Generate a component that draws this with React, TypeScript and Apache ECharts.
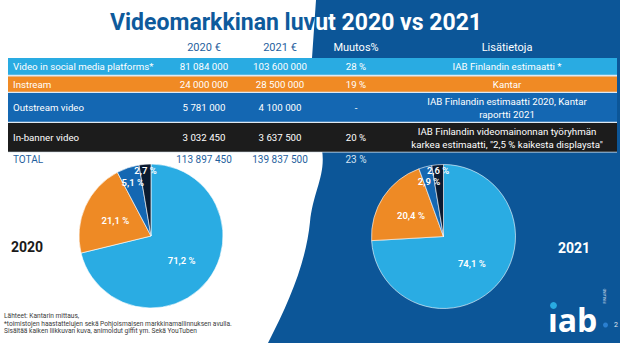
import React, { useEffect, useRef } from "react";
import * as echarts from "echarts";

const title = ["Videomarkkinan luv", "ut 2020 vs 2021"];
const headers = ["2020 €", "2021 €", "Muutos%", "Lisätietoja"];
const categories = ["Video in social media platforms*", "Instream", "Outstream video", "In-banner video"];
const values2020 = [81084000, 24000000, 5781000, 3032450];
const values2021 = [103600000, 28500000, 4100000, 3637500];
const changes = ["28 %", "19 %", "-", "20 %"];
const notes = [
  "IAB Finlandin estimaatti *",
  "Kantar",
  "IAB Finlandin estimaatti 2020, Kantar\nraportti 2021",
  "IAB Finlandin videomainonnan työryhmän\nkarkea estimaatti, \"2,5 % kaikesta displaysta\"",
];
const totalLabel = "TOTAL";
const total2020 = 113897450;
const total2021 = 139837500;
const totalChange = "23 %";
const years = ["2020", "2021"];
const footnotes = [
  "Lähteet: Kantarin mittaus,",
  "*toimistojen haastattelujen sekä Pohjoismaisen markkinamallinnuksen avulla.",
  "Sisältää kaiken liikkuvan kuva, animoidut giffit ym. Sekä YouTuben",
];

// styles
const FONT = "Roboto, 'Open Sans', sans-serif";
const rowColors = ["#29abe2", "#f08a24", "#1467b2", "#1c1c1c"];
const pieColors = ["#2aace3", "#ee8a25", "#1467b2", "#0b1a30"];
const rowTops = [58, 76.5, 93, 123];
const rowHeights = [17.5, 16, 29.5, 29.5];
const colX = [204, 280, 356, 507];
const labelShift = [0, 0, 18, 27];
const BG_BLUE = "#0c5698";
const TEXT_BLUE = "#1f5f9e";

const bgPath =
  "M316 0 L620 0 L620 343 L268 343 C290 300 306 262 310 222 C313 192 326 175 322 150 L312 58 Z";
echarts.graphic.registerShape("bgshape", echarts.graphic.extendPath(bgPath, {}) as any);

const fmt = (n: number) => n.toString().replace(/\B(?=(\d{3})+(?!\d))/g, " ");

function shiftFor(values: number[], i: number) {
  const sum = values.reduce((a, b) => a + b, 0);
  let cum = 0;
  for (let k = 0; k < i; k++) cum += values[k];
  const mid = ((cum + values[i] / 2) / sum) * Math.PI * 2;
  const ex = labelShift[i];
  return { dx: ex * Math.sin(mid), dy: -ex * Math.cos(mid) };
}

function pieSeries(values: number[], center: number[]) {
  return {
    type: "pie",
    center,
    radius: [0, 72],
    startAngle: 90,
    clockwise: true,
    silent: true,
    avoidLabelOverlap: false,
    data: categories.map((c, i) => ({ name: c, value: values[i], itemStyle: { color: pieColors[i] } })),
    itemStyle: { borderColor: "#ffffff", borderWidth: 0.6 },
    label: {
      show: true,
      position: "inside",
      color: "#ffffff",
      fontSize: 9.5,
      fontWeight: 600,
      fontFamily: FONT,
      formatter: (p: any) => p.percent.toFixed(1).replace(".", ",") + " %",
    },
    labelLine: { show: false },
    labelLayout: (p: any) => shiftFor(values, p.dataIndex),
    emphasis: { disabled: true },
  };
}

function buildGraphic() {
  const els: any[] = [];
  els.push({ type: "rect", shape: { x: 0, y: 0, width: 620, height: 343 }, style: { fill: "#ffffff" }, z: -10 });
  els.push({ type: "bgshape", x: 0, y: 0, scaleX: 1, scaleY: 1, style: { fill: BG_BLUE }, z: -9 });
  // title
  els.push({
    type: "text",
    x: 110,
    y: 22,
    style: {
      text: `{a|${title[0]}}{b|${title[1]}}`,
      verticalAlign: "middle",
      rich: {
        a: { fill: "#0e5a9c", fontSize: 23, fontWeight: "bold", fontFamily: FONT },
        b: { fill: "#ffffff", fontSize: 23, fontWeight: "bold", fontFamily: FONT },
      },
    },
  });
  // headers
  headers.forEach((h, i) => {
    els.push({
      type: "text",
      x: colX[i],
      y: 47,
      style: {
        text: h,
        fill: i < 2 ? TEXT_BLUE : "#ffffff",
        fontSize: 11,
        fontFamily: FONT,
        align: "center",
        verticalAlign: "middle",
      },
    });
  });
  // table back (light gaps)
  els.push({ type: "rect", shape: { x: 8, y: 58, width: 609, height: 94.5 }, style: { fill: "#dfe9f2" }, z: -1 });
  categories.forEach((c, i) => {
    const top = rowTops[i];
    const h = rowHeights[i];
    const cy = top + h / 2;
    els.push({ type: "rect", shape: { x: 8, y: top, width: 609, height: h - 0.8 }, style: { fill: rowColors[i] } });
    const common = { fill: "#ffffff", fontSize: 9.7, fontFamily: FONT, verticalAlign: "middle" };
    els.push({ type: "text", x: 13, y: cy, style: { ...common, text: c, align: "left" } });
    els.push({ type: "text", x: colX[0], y: cy, style: { ...common, text: fmt(values2020[i]), align: "center" } });
    els.push({ type: "text", x: colX[1], y: cy, style: { ...common, text: fmt(values2021[i]), align: "center" } });
    els.push({ type: "text", x: colX[2], y: cy, style: { ...common, text: changes[i], align: "center" } });
    els.push({
      type: "text",
      x: colX[3],
      y: cy,
      style: { ...common, text: notes[i], align: "center", lineHeight: 13 },
    });
  });
  // total row
  const ty = 159.5;
  const tcommon = { fontSize: 10, fontFamily: FONT, verticalAlign: "middle" };
  els.push({ type: "text", x: 13, y: ty, style: { ...tcommon, text: totalLabel, fill: TEXT_BLUE, align: "left" } });
  els.push({ type: "text", x: colX[0], y: ty, style: { ...tcommon, text: fmt(total2020), fill: TEXT_BLUE, align: "center" } });
  els.push({ type: "text", x: colX[1], y: ty, style: { ...tcommon, text: fmt(total2021), fill: TEXT_BLUE, align: "center" } });
  els.push({ type: "text", x: colX[2], y: ty, style: { ...tcommon, text: totalChange, fill: "#d6e4f2", align: "center" } });
  // years
  els.push({
    type: "text",
    x: 27,
    y: 247,
    style: { text: years[0], fill: "#1a1a1a", fontSize: 14, fontWeight: "bold", fontFamily: FONT, align: "center", verticalAlign: "middle" },
  });
  els.push({
    type: "text",
    x: 574,
    y: 248,
    style: { text: years[1], fill: "#ffffff", fontSize: 14, fontWeight: "bold", fontFamily: FONT, align: "center", verticalAlign: "middle" },
  });
  // footnotes
  footnotes.forEach((f, i) => {
    els.push({
      type: "text",
      x: 4,
      y: 316 + i * 7.5,
      style: { text: f, fill: "#3a3a3a", fontSize: 6.6, fontFamily: FONT, align: "left", verticalAlign: "middle" },
    });
  });
  // logo
  els.push({
    type: "text",
    x: 548,
    y: 319,
    style: { text: "ıab", fill: "#ffffff", fontSize: 32, fontWeight: "bold", fontFamily: "'Open Sans', sans-serif", align: "left", verticalAlign: "middle" },
  });
  els.push({ type: "circle", shape: { cx: 553.5, cy: 305.5, r: 3.4 }, style: { fill: "#29abe2" } });
  els.push({ type: "circle", shape: { cx: 605.5, cy: 325, r: 2.5 }, style: { fill: "#2a7fd0" } });
  els.push({
    type: "text",
    x: 605,
    y: 296,
    rotation: Math.PI / 2,
    style: { text: "FINLAND", fill: "#cfdcea", fontSize: 3.6, fontFamily: FONT, align: "center", verticalAlign: "middle" },
  });
  els.push({
    type: "text",
    x: 616,
    y: 325,
    style: { text: "2", fill: "#e0e8f0", fontSize: 7, fontFamily: FONT, align: "center", verticalAlign: "middle" },
  });
  return els;
}

export default function App() {
  const ref = useRef<HTMLDivElement>(null);
  useEffect(() => {
    document.body.style.margin = "0";
    const chart = echarts.init(ref.current!, undefined, { renderer: "svg" });
    chart.setOption({
      animation: false,
      backgroundColor: "transparent",
      graphic: { elements: buildGraphic() },
      series: [pieSeries(values2020, [151, 236]), pieSeries(values2021, [443.5, 236.5])],
    });
    return () => chart.dispose();
  }, []);
  return <div ref={ref} style={{ width: 620, height: 343 }} />;
}
